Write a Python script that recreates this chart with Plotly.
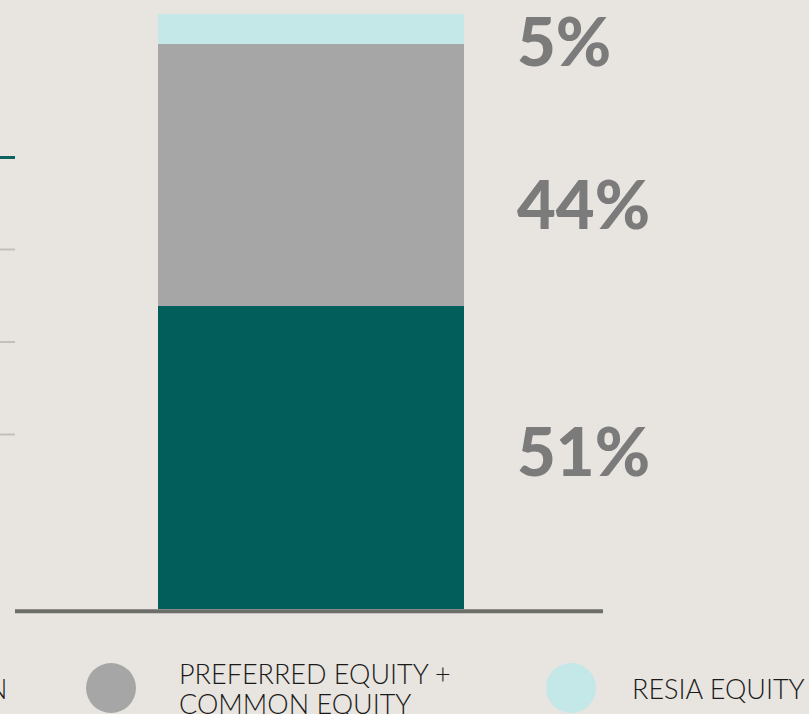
import plotly.graph_objects as go

W, H = 809, 714

segment_names = ["LOAN", "PREFERRED EQUITY + COMMON EQUITY", "RESIA EQUITY"]
segment_values = [51, 44, 5]
segment_colors = ["#025e5a", "#a6a6a6", "#c4e7e7"]
label_texts = [f"{v}%" for v in segment_values]
label_yshift = [7, -28, -11]
legend_lines_pref = ["PREFERRED EQUITY +", "COMMON EQUITY"]
legend_resia = "RESIA EQUITY"

bg = "#e8e4df"

fig = go.Figure()
for name, val, col in zip(segment_names, segment_values, segment_colors):
    fig.add_trace(go.Bar(
        x=[0], y=[val], name=name, width=1,
        marker=dict(color=col, line=dict(width=0)),
        showlegend=False, hoverinfo="skip",
    ))

# percentage labels
cum = 0
annotations = []
for val, txt, ys in zip(segment_values, label_texts, label_yshift):
    mid = cum + val / 2
    cum += val
    annotations.append(dict(
        x=515 / W, xref="paper", y=mid, yref="y", text=txt,
        showarrow=False, xanchor="left", yanchor="middle", yshift=ys,
        font=dict(family="Lato", size=67, color="#7b7b7b", weight=900),
    ))

def px_x(p):
    return p / W

def px_y(p):
    return 1 - p / H

# legend texts
legend_font = dict(family="Lato", size=27, color="#1a1a1a", weight=300)
for line, yy in zip(legend_lines_pref, [673, 703]):
    annotations.append(dict(x=px_x(177), y=px_y(yy), xref="paper", yref="paper",
                            xanchor="left", yanchor="middle", text=line,
                            showarrow=False, align="left", font=legend_font))
annotations += [
    dict(x=px_x(630), y=px_y(688), xref="paper", yref="paper", xanchor="left", yanchor="middle",
         text=legend_resia, showarrow=False, align="left", font=legend_font),
    dict(x=px_x(9), y=px_y(688), xref="paper", yref="paper", xanchor="right", yanchor="middle",
         text="N", showarrow=False, align="right", font=legend_font),
]

shapes = []
# baseline
shapes.append(dict(type="line", xref="paper", yref="paper", x0=px_x(15), x1=px_x(603),
                   y0=px_y(611.3), y1=px_y(611.3), line=dict(color="#6d6d69", width=4)))
# left remnants of a neighbouring chart
shapes.append(dict(type="line", xref="paper", yref="paper", x0=0, x1=px_x(15),
                   y0=px_y(157.5), y1=px_y(157.5), line=dict(color="#0e6360", width=3)))
for yy in [249.5, 342, 434.5]:
    shapes.append(dict(type="line", xref="paper", yref="paper", x0=0, x1=px_x(15),
                       y0=px_y(yy), y1=px_y(yy), line=dict(color="#c3c0bb", width=2)))
# legend circles
for cx, col in [(111, "#a6a6a6"), (571, "#c4e7e7")]:
    shapes.append(dict(type="circle", xref="paper", yref="paper",
                       x0=px_x(cx - 25), x1=px_x(cx + 25), y0=px_y(713), y1=px_y(663),
                       fillcolor=col, line=dict(width=0)))

# axis ranges so bar spans 158..464 px and 0..100 maps to 609..14 px
bar_px = 306
xa = -311 / bar_px
xb = xa + W / bar_px
ppu = 595 / 100
y_top = 609 / ppu
y_bot = -(H - 609) / ppu

fig.update_layout(
    width=W, height=H, barmode="stack", bargap=0,
    paper_bgcolor=bg, plot_bgcolor=bg,
    margin=dict(l=0, r=0, t=0, b=0),
    xaxis=dict(range=[xa, xb], visible=False, fixedrange=True),
    yaxis=dict(range=[y_bot, y_top], visible=False, fixedrange=True),
    annotations=annotations, shapes=shapes,
)

fig.write_html("out.html")
